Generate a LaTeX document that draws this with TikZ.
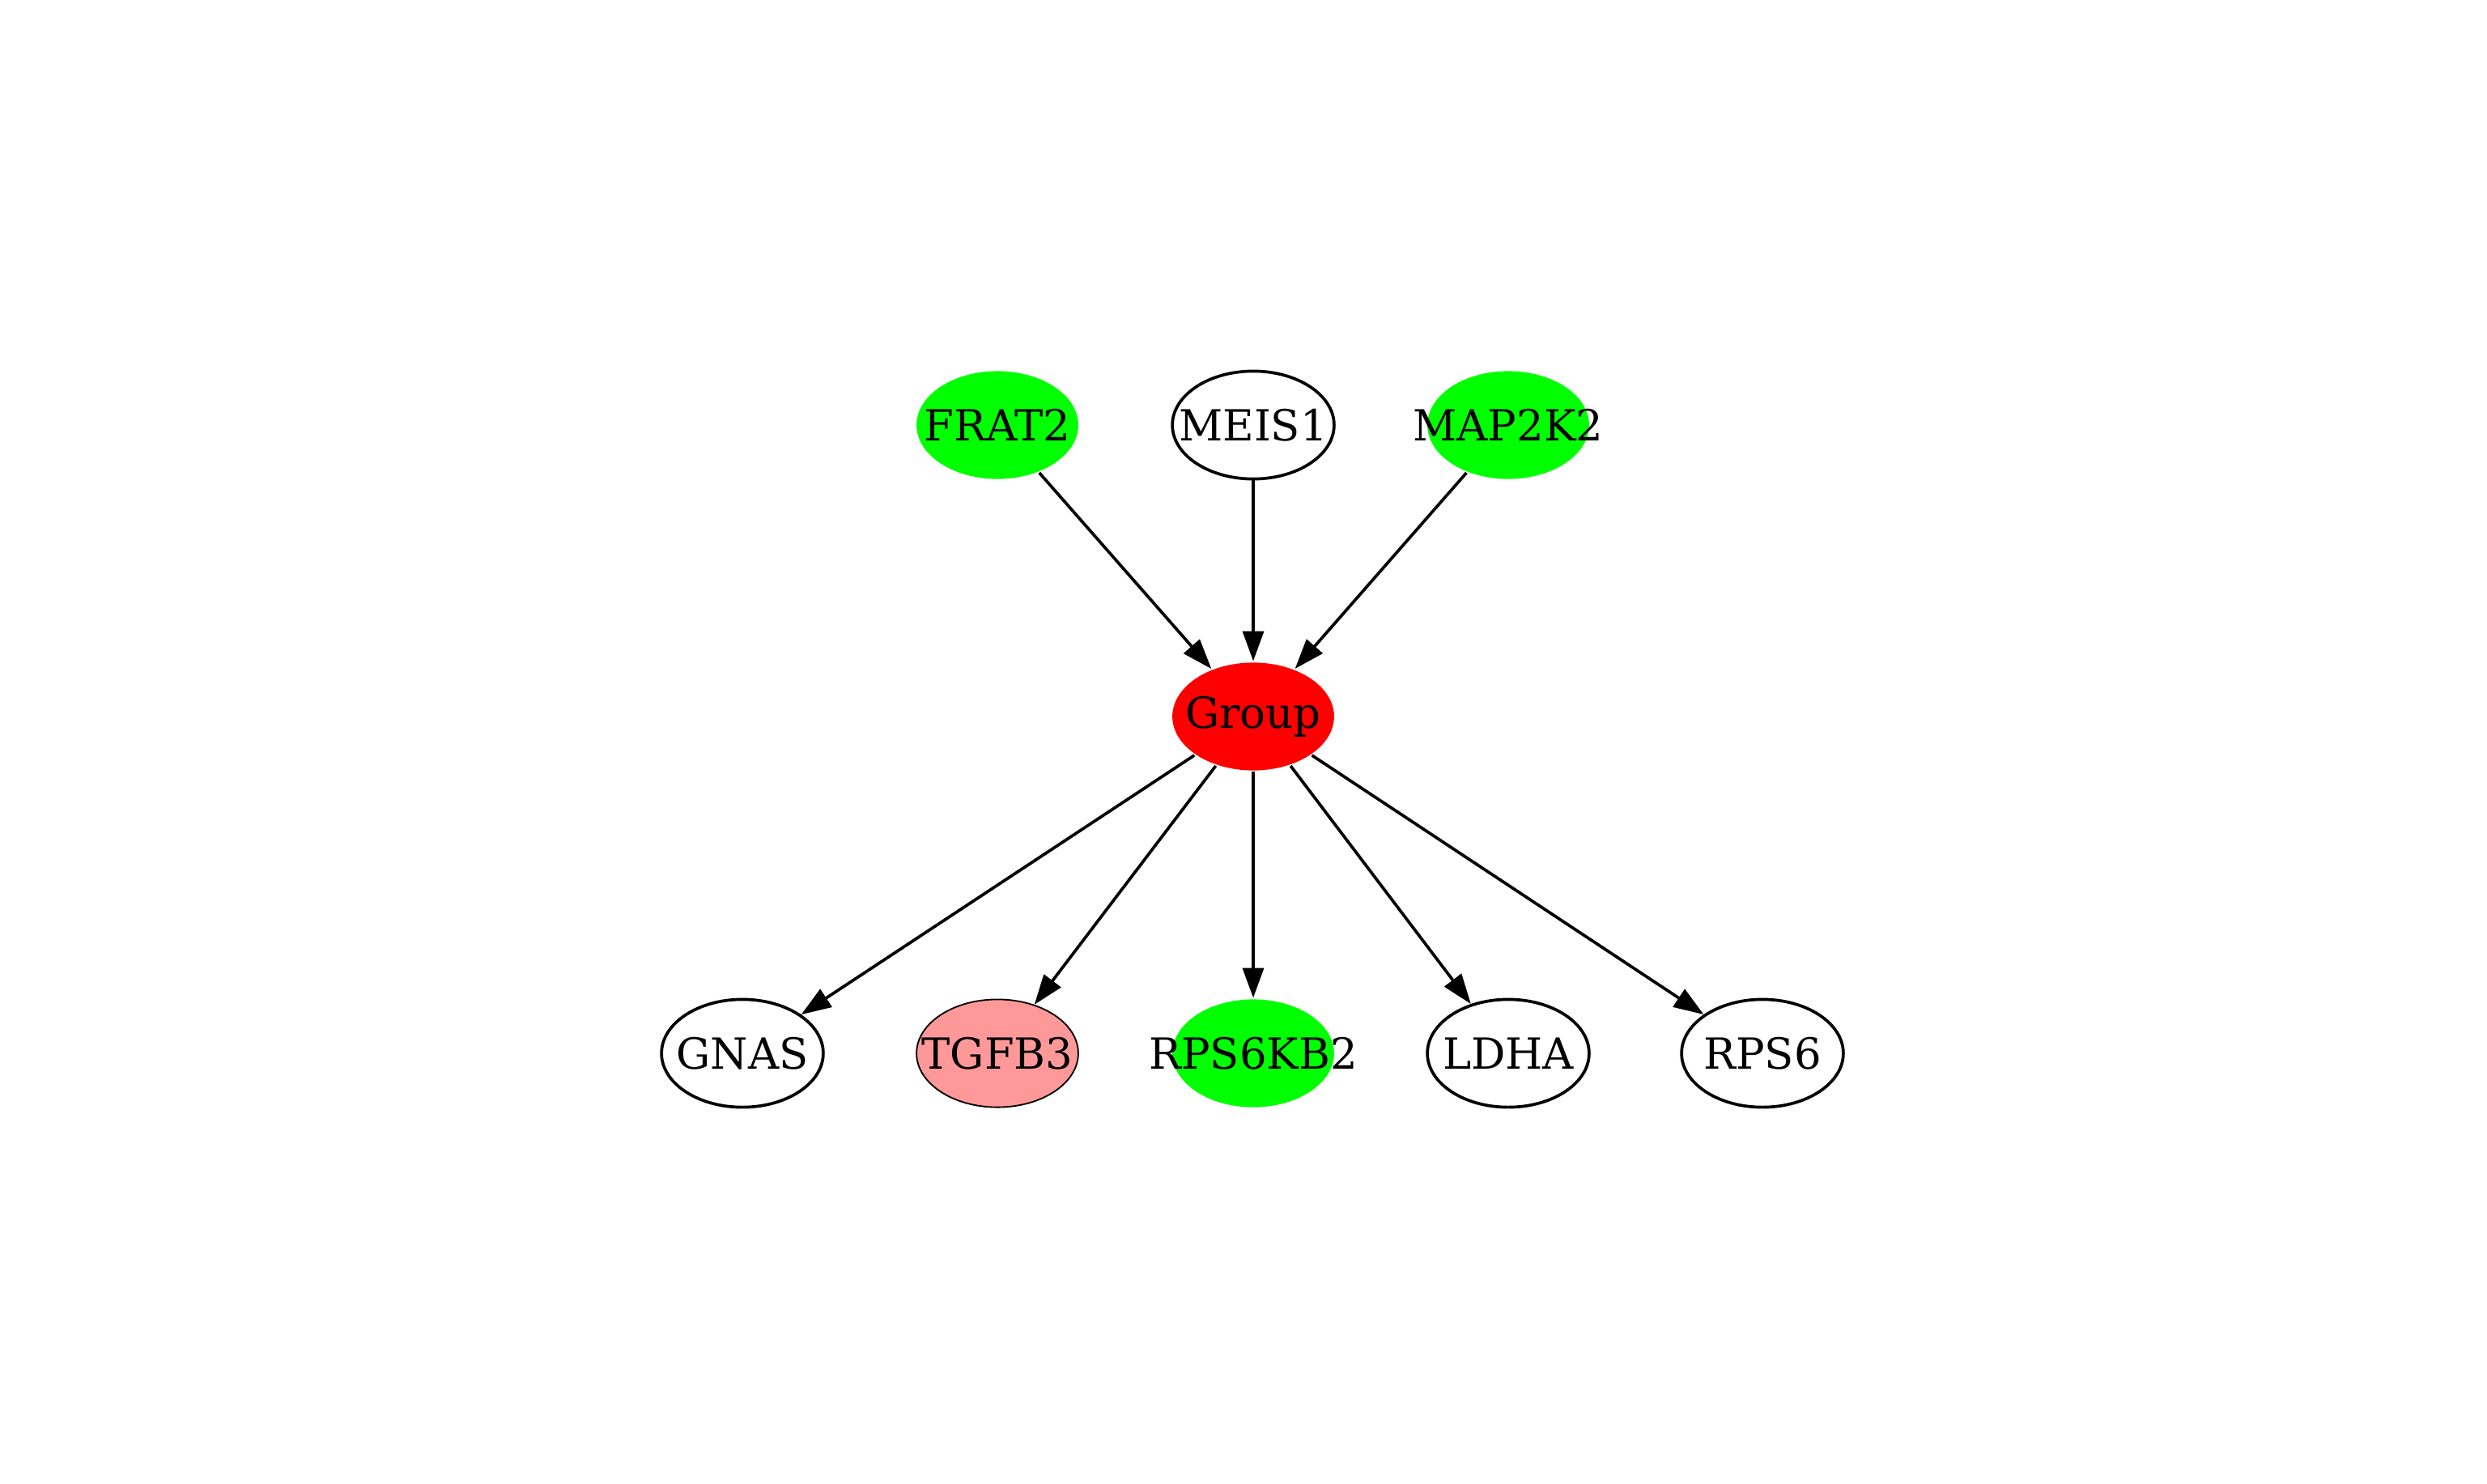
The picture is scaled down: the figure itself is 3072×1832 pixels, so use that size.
\documentclass[tikz,border=0pt]{standalone}
\usepackage{fontspec}
\setmainfont{DejaVu Serif}
\usetikzlibrary{arrows.meta,shapes.geometric}
\definecolor{gvgreen}{HTML}{00FF00}
\definecolor{gvred}{HTML}{FF0000}
\definecolor{gvpink}{HTML}{FF9999}
\tikzset{
  gene/.style={ellipse, draw=black, line width=1pt, minimum width=54pt, minimum height=36pt, inner sep=0pt,
    font=\fontsize{14.3}{16}\selectfont},
  greengene/.style={gene, draw=none, fill=gvgreen},
  redgene/.style={gene, draw=none, fill=gvred},
  pinkgene/.style={gene, line width=0.5pt, fill=gvpink},
  edge/.style={line width=1pt, -{Triangle[length=10pt,width=7pt]}},
}
\newcommand{\gl}[1]{\raisebox{-1pt}{\makebox[0pt]{#1}}}
\begin{document}
\begin{tikzpicture}[x=0.2703pt,y=-0.2703pt]
\useasboundingbox (0,0) rectangle (3072,1832);
\node[greengene] (frat2) at (1232,525) {\gl{FRAT2}};
\node[gene] (meis1) at (1548,525) {\gl{MEIS1}};
\node[greengene] (map2k2) at (1863,525) {\gl{MAP2K2}};
\node[redgene] (group) at (1548,885) {\gl{Group}};
\node[gene] (gnas) at (917,1301) {\gl{GNAS}};
\node[pinkgene] (tgfb3) at (1232,1301) {\gl{TGFB3}};
\node[greengene] (rps6kb2) at (1548,1301) {\gl{RPS6KB2}};
\node[gene] (ldha) at (1863,1301) {\gl{LDHA}};
\node[gene] (rps6) at (2177,1301) {\gl{RPS6}};
\draw[edge] (frat2) -- (group);
\draw[edge] (meis1) -- (group);
\draw[edge] (map2k2) -- (group);
\draw[edge] (group) -- (gnas);
\draw[edge] (group) -- (tgfb3);
\draw[edge] (group) -- (rps6kb2);
\draw[edge] (group) -- (ldha);
\draw[edge] (group) -- (rps6);
\end{tikzpicture}
\end{document}
